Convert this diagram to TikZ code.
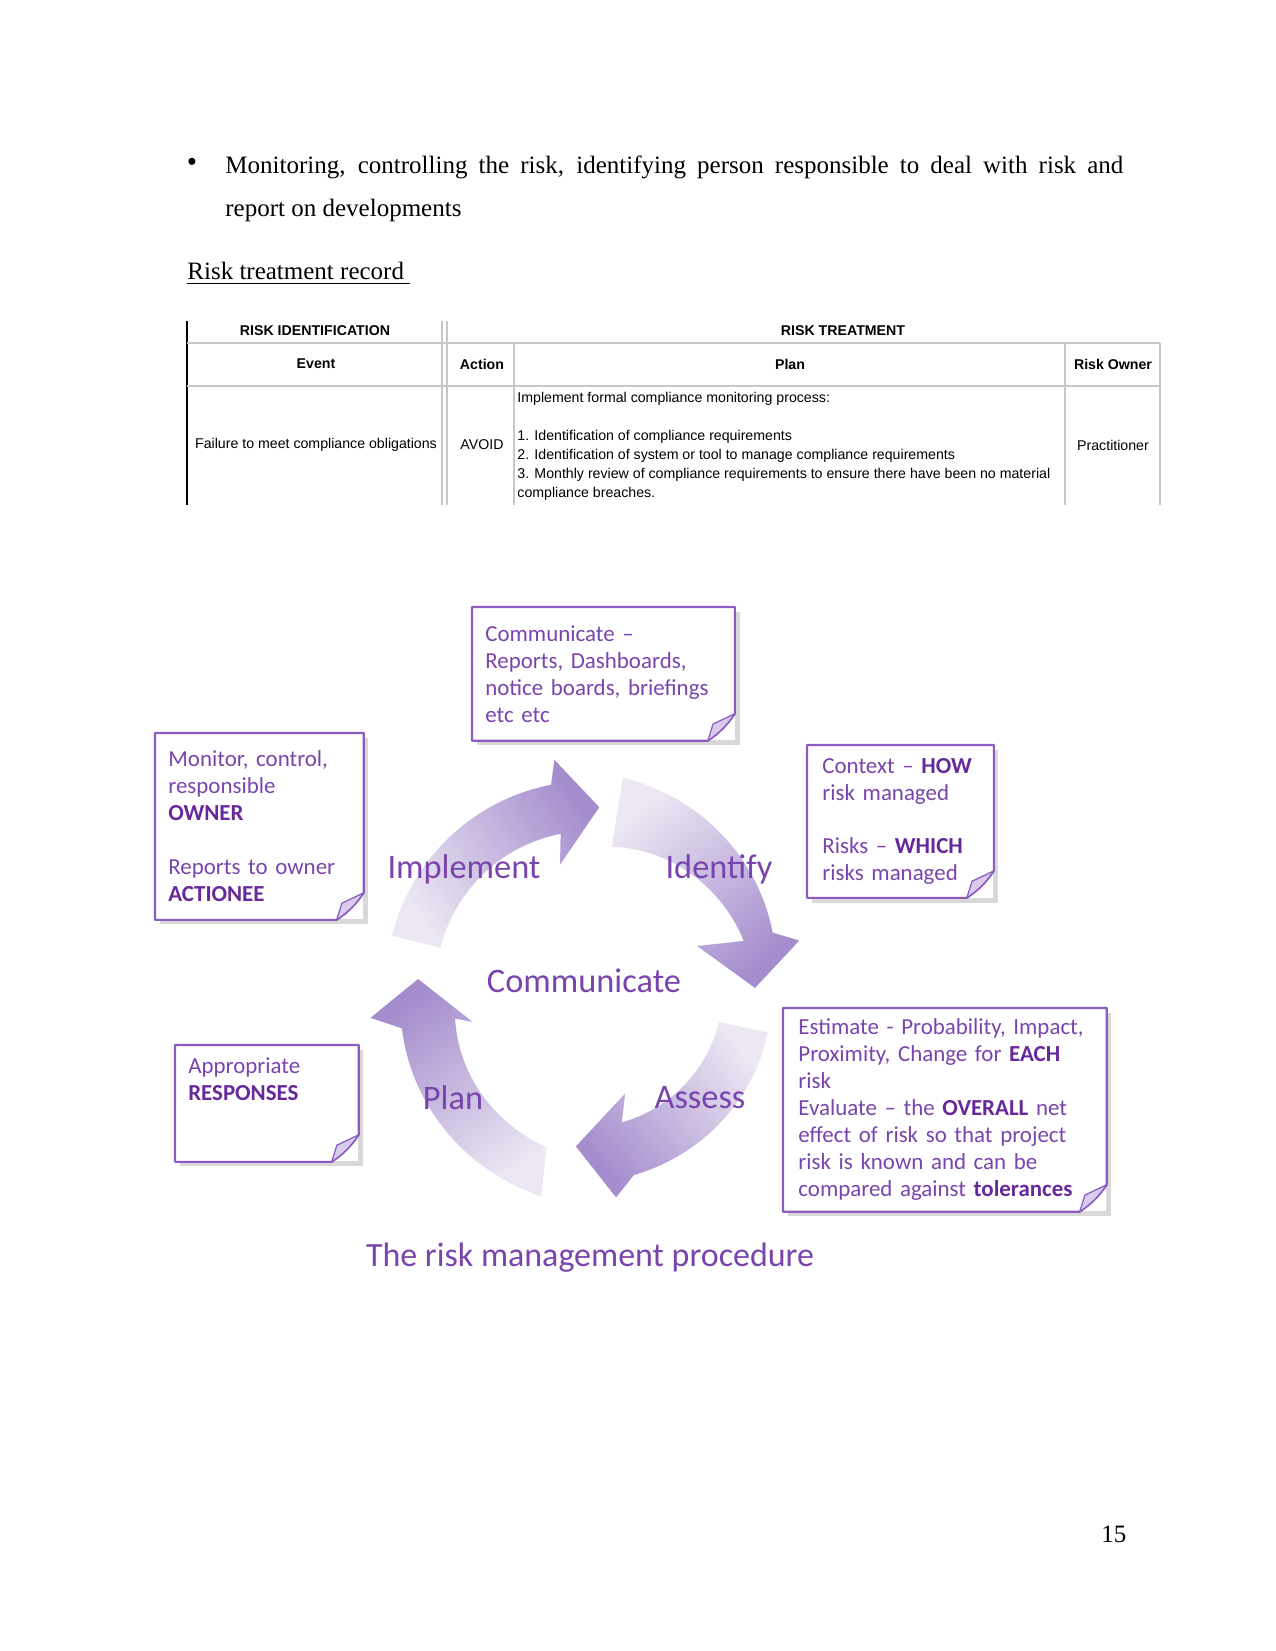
\documentclass[tikz,border=0pt]{standalone}
\usepackage{fontspec}
\setmainfont{Liberation Serif}
\newfontfamily\calibri{Carlito}
\newfontfamily\arialf{Liberation Sans}
\usetikzlibrary{shadows}
\definecolor{notetxt}{HTML}{7A44AD}
\definecolor{notebold}{HTML}{67299A}
\definecolor{noteedge}{HTML}{8A5CC2}
\definecolor{flapfill}{HTML}{D9CDEB}
\definecolor{arrowlight}{HTML}{ECE7F3}
\definecolor{arrowdark}{HTML}{A48CCD}
\definecolor{gridgray}{HTML}{C8C8C8}
\newcommand{\pix}{0.48pt}
\newcommand{\hi}[1]{\textbf{\color{notebold}#1}}

\begin{document}
\begin{tikzpicture}[x=\pix,y=-\pix,line join=round,
  body/.style={anchor=base west,inner sep=0pt,font=\fontsize{12}{14}\selectfont},
  tcell/.style={inner sep=0pt,font=\arialf\fontsize{6.8}{9.1}\selectfont},
  thead/.style={inner sep=0pt,font=\arialf\bfseries\fontsize{6.8}{9.1}\selectfont},
  grid/.style={draw=gridgray,line width=0.6pt},
  note/.style={rectangle,anchor=north west,fill=white,inner xsep=6.2pt,inner ysep=0pt,align=left,
    text=notetxt,font=\calibri\fontsize{11}{12.95}\selectfont,
    drop shadow={shadow xshift=2.4pt,shadow yshift=-2.4pt,opacity=.3}},
  noteline/.style={draw=noteedge,line width=1pt},
  flap/.style={fill=flapfill,draw=noteedge,line width=.6pt},
  steplabel/.style={text=notetxt,font=\calibri\fontsize{16.5}{18}\selectfont,inner sep=0pt},
  cyclearrow/.style={top color=arrowdark,bottom color=arrowlight,draw=none}]
\useasboundingbox[fill=white] (0,0) rectangle (1275,1651);

% text above the table
\node[font=\fontsize{14}{17}\selectfont] (dot) at (192,165) {\textbullet};
\node[body] (line1) at (225,174)
  {\makebox[431pt][s]{Monitoring, controlling the risk, identifying person responsible to deal with risk and}};
\node[body] (line2) at (225,217) {report on developments};
\node[body] (rtr) at (187,280) {\underline{Risk treatment record\ }};

% table
\draw[line width=0.8pt] (187,321) -- (187,505);
\draw[grid] (187,343) -- (1160,343) (187,386) -- (1160,386);
\draw[grid] (442,321) -- (442,505) (447,321) -- (447,505);
\foreach \x in {514,1065,1160}
  \draw[grid] (\x,343) -- (\x,505);
\node[thead] (ridh) at (315,331) {RISK IDENTIFICATION};
\node[thead] (rtrh) at (843,331) {RISK TREATMENT};
\node[thead] (evh) at (316,364) {Event};
\node[thead] (ach) at (482,364) {Action};
\node[thead] (plh) at (790,364) {Plan};
\node[thead] (owh) at (1113,364) {Risk Owner};
\node[tcell] (ev) at (316,445) {Failure to meet compliance obligations};
\node[tcell] (ac) at (482,445) {AVOID};
\node[tcell,anchor=north west,align=left] (pl) at (517,392)
  {Implement formal compliance monitoring process:\\[9.1pt]
   1. Identification of compliance requirements\\
   2. Identification of system or tool to manage compliance requirements\\
   3. Monthly review of compliance requirements to ensure there have been no material\\
   compliance breaches.};
\node[tcell] (ow) at (1113,445) {Practitioner};

% notes
\node[note,text width=113.4pt,minimum width=125.8pt,minimum height=63.8pt] (comm) at (472,607)
  {Communicate –\\ Reports, Dashboards,\\ notice boards, briefings\\ etc etc};
\node[note,text width=87.4pt,minimum width=99.8pt,minimum height=89.3pt] (monitor) at (155,733)
  {Monitor, control,\\ responsible\\ \hi{OWNER}\\[12.95pt] Reports to owner\\ \hi{ACTIONEE}};
\node[note,inner xsep=7.2pt,text width=74.9pt,minimum width=89.3pt,minimum height=73pt] (context) at (807,745)
  {Context – \hi{HOW}\\ risk managed\\[12.95pt] Risks – \hi{WHICH}\\ risks managed};
\node[note,inner xsep=7.2pt,text width=140.6pt,minimum width=155pt,minimum height=97.4pt] (estimate) at (783,1008)
  {Estimate - Probability, Impact,\\ Proximity, Change for \hi{EACH}\\ risk\\
   Evaluate – the \hi{OVERALL} net\\ effect of risk so that project\\ risk is known and can be\\
   compared against \hi{tolerances}};
\node[note,text width=75.4pt,minimum width=87.8pt,minimum height=55.7pt] (respond) at (175,1045)
  {Appropriate\\ \hi{RESPONSES}\\[10pt]\mbox{}};
\foreach \n in {comm,monitor,context,estimate,respond}{
  \draw[noteline] (\n.north west) -- (\n.north east) -- ([yshift=13pt]\n.south east)
    to[bend left=10] ([xshift=-13pt]\n.south east) -- (\n.south west) -- cycle;
  \filldraw[flap] ([yshift=13pt]\n.south east) -- ([xshift=-10.5pt,yshift=8pt]\n.south east)
    -- ([xshift=-13pt]\n.south east) to[bend right=10] cycle;
}

% cycle
\begin{scope}[shift={(590,985)},y=\pix]
  \shade[cyclearrow,shading angle=-57] (166:204) arc[start angle=166,end angle=101,radius=204]
    -- (99:228) -- (87:178) -- (104:124) -- (101:154) arc[start angle=101,end angle=166,radius=154] -- cycle;
  \shade[cyclearrow,shading angle=-140] plot[domain=81:16,samples=30] (\x:{210-20*(81-\x)/65})
    -- (12:214) -- (-1:165) -- (20:114) -- plot[domain=16:81,samples=30] (\x:{140+20*(81-\x)/65}) -- cycle;
  \shade[cyclearrow,shading angle=129] plot[domain=-15:-77,samples=30] (\x:{184+11*(-15-\x)/62})
    -- (-83:214) -- (-95:162) -- (-72:114) -- plot[domain=-77:-16,samples=30] (\x:{134+7*(-16-\x)/61}) -- cycle;
  \shade[cyclearrow,shading angle=35] plot[domain=-103:-167,samples=30] (\x:{217-24*(-103-\x)/64})
    -- (-171.5:222) -- (-182:172) -- (-162.5:123) -- plot[domain=-166:-105,samples=30] (\x:{168-29*(-105-\x)/61}) -- cycle;
\end{scope}
\node[steplabel] (impl) at (464,869) {Implement};
\node[steplabel] (iden) at (719,869) {Identify};
\node[steplabel] (commc) at (584,981) {Communicate};
\node[steplabel] (plan) at (453,1098) {Plan};
\node[steplabel] (assess) at (700,1098) {Assess};
\node[steplabel,font=\calibri\fontsize{16.3}{18}\selectfont] (caption) at (590,1258) {The risk management procedure};

\node[body] (pageno) at (1101,1542) {15};
\end{tikzpicture}
\end{document}
